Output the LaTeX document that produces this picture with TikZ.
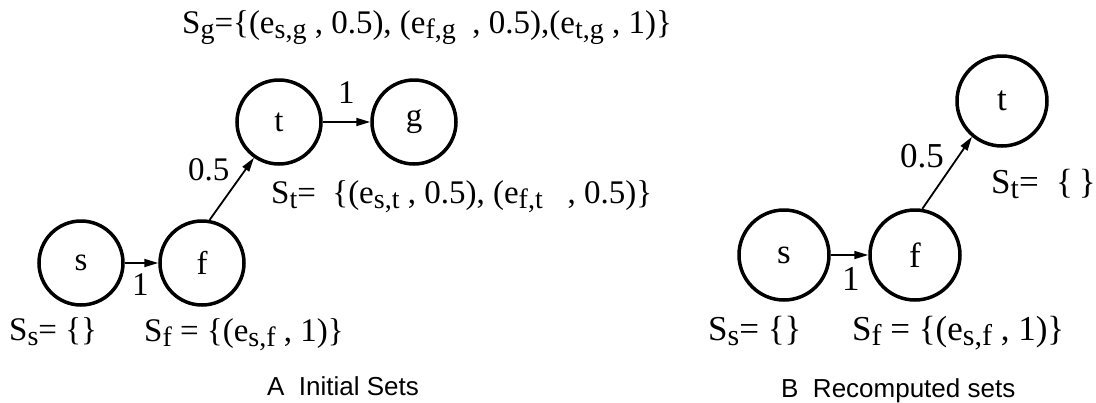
\documentclass[tikz,border=0pt]{standalone}
\usepackage{fontspec}
\setmainfont{Liberation Sans}
\newfontfamily\tim{Liberation Serif}
\usetikzlibrary{arrows.meta}
\newcommand{\sbx}[1]{\raisebox{-5pt}{\fontsize{28}{28}\selectfont #1}}
\newcommand{\sbxb}[1]{\raisebox{-5.5pt}{\fontsize{30}{30}\selectfont #1}}
\begin{document}
\begin{tikzpicture}[x=1pt,y=-1pt,
  state/.style={circle,draw,line width=3.5pt,inner sep=0pt,minimum size=84pt,font=\fontsize{33}{33}\selectfont\tim},
  bigstate/.style={state,minimum size=90pt,font=\fontsize{35}{35}\selectfont\tim},
  edge/.style={line width=1.8pt,-{Triangle[length=14pt,width=8pt]}},
  lbl/.style={inner sep=0pt,anchor=base west,font=\fontsize{33}{33}\selectfont\tim},
  lblb/.style={lbl,font=\fontsize{35}{35}\selectfont\tim},
  captext/.style={inner sep=0pt,anchor=base west,font=\fontsize{26}{26}\selectfont}]
\useasboundingbox (0,0) rectangle (1096,402);
% left panel
\node[state] (s1) at (81,263) {s};
\node[state] (f1) at (202,263) {f};
\node[state] (t1) at (279,122) {t};
\node[state] (g1) at (414,122) {g};
\draw[edge] (s1) -- (f1);
\draw[edge] (t1) -- (g1);
\draw[edge] (f1.80) -- (t1.235);
\node[lbl] (w1) at (132,295) {1};
\node[lbl] (w2) at (188,180) {0.5};
\node[lbl] (w3) at (338,103) {1};
\node[lbl] (Sg) at (182,33) {S\sbx{g}=\{(e\sbx{s,g} , 0.5), (e\sbx{f,g}\ \ , 0.5),(e\sbx{t,g} , 1)\}};
\node[lbl] (St1) at (271,203) {S\sbx{t}=\ \ \{(e\sbx{s,t} , 0.5), (e\sbx{f,t}\ \ \ , 0.5)\}};
\node[lbl] (Ss1) at (9,340) {S\sbx{s}= \{\}};
\node[lbl] (Sf1) at (144,341) {S\sbx{f} = \{(e\sbx{s,f} , 1)\}};
\node[captext] (ca) at (267,395) {A\ \ Initial Sets};
% right panel
\node[bigstate] (s2) at (784,255) {s};
\node[bigstate] (f2) at (915,255) {f};
\node[bigstate] (t2) at (1002,101) {t};
\draw[edge] (s2) -- (f2);
\draw[edge] (f2.81) -- (t2.230);
\node[lblb] (w4) at (842,290) {1};
\node[lblb] (w5) at (900,167) {0.5};
\node[lblb] (St2) at (991,193) {S\sbxb{t}=\ \ \{\,\}};
\node[lblb] (Ss2) at (708,340) {S\sbxb{s}= \{\}};
\node[lblb] (Sf2) at (852,340) {S\sbxb{f} = \{(e\sbxb{s,f} , 1)\}};
\node[captext] (cb) at (781,397) {B\ \ Recomputed sets};
\end{tikzpicture}
\end{document}
